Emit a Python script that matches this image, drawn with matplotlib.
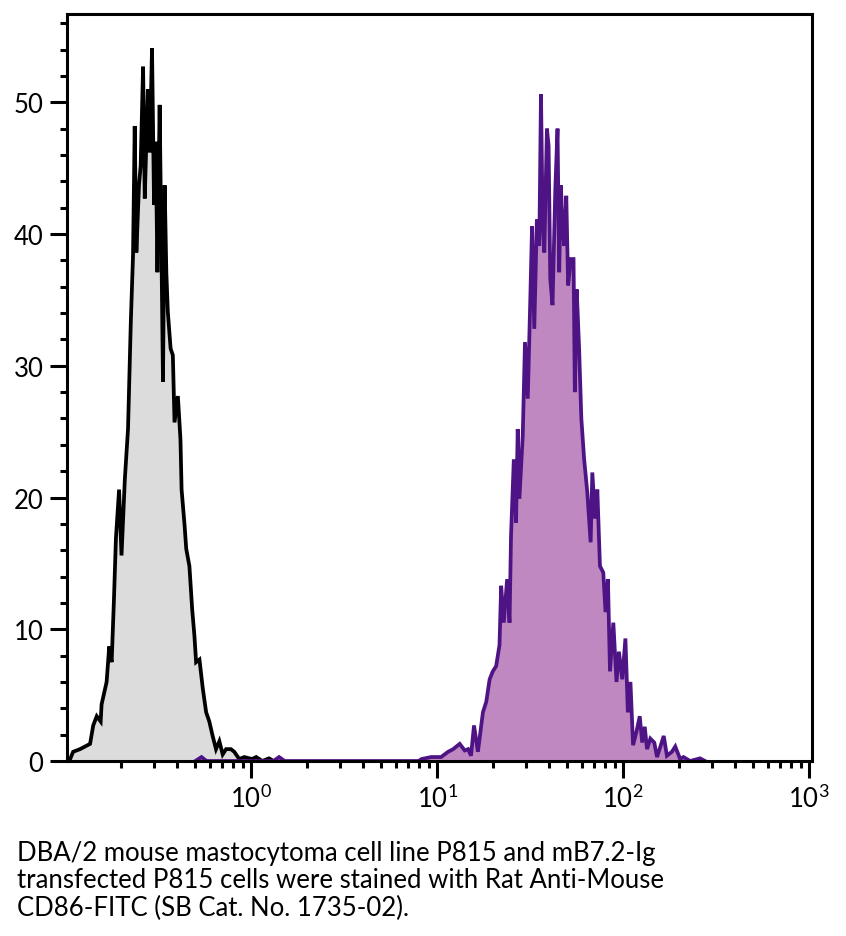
import numpy as np
import matplotlib
matplotlib.use('Agg')
import matplotlib.pyplot as plt
from matplotlib.ticker import FixedLocator, MultipleLocator, LogFormatterSciNotation

plt.rcParams['font.family'] = ['Lato', 'DejaVu Sans']
plt.rcParams['mathtext.fontset'] = 'custom'
plt.rcParams['mathtext.rm'] = 'Lato'
plt.rcParams['mathtext.it'] = 'Lato:italic'
plt.rcParams['mathtext.bf'] = 'Lato:bold'

# control (unstained) histogram - log10 of intensity vs count
ctrl_log = [-0.99, -0.973, -0.957, -0.920, -0.893, -0.866, -0.849, -0.830, -0.809, -0.804,
            -0.777, -0.763, -0.750, -0.738, -0.727, -0.710, -0.697, -0.679, -0.662, -0.647,
            -0.635, -0.626, -0.617, -0.603, -0.594, -0.581, -0.572, -0.563, -0.555, -0.545,
            -0.533, -0.522, -0.513, -0.504, -0.492, -0.483, -0.474, -0.465, -0.456, -0.448,
            -0.433, -0.421, -0.412, -0.394, -0.380, -0.374, -0.358, -0.349, -0.332, -0.317,
            -0.305, -0.296, -0.278, -0.260, -0.242, -0.225, -0.207, -0.189, -0.171, -0.153,
            -0.135, -0.109, -0.091, -0.064, -0.037, 0.005, 0.027, 0.06, 0.096, 0.12]
ctrl_count = [0.0, 0.15, 0.7, 0.9, 1.1, 1.3, 2.7, 3.4, 3.0, 4.3,
              6.0, 8.7, 7.5, 12.1, 16.9, 20.6, 15.6, 21.4, 25.2, 33.3,
              38.4, 48.2, 38.6, 43.7, 45.2, 52.7, 42.7, 47.2, 51.0, 46.2,
              54.1, 42.2, 47.0, 37.1, 49.8, 39.6, 28.8, 43.7, 37.1, 34.1,
              31.3, 30.8, 25.7, 27.7, 24.4, 20.6, 17.9, 16.1, 14.8, 11.5,
              9.5, 7.5, 7.7, 5.5, 3.7, 3.0, 1.9, 0.9, 1.5, 0.5,
              0.9, 0.9, 0.7, 0.15, 0.3, 0.15, 0.3, 0.0, 0.2, 0.0]

# mB7.2-Ig transfected P815, CD86-FITC
cd86_log = [-0.30, -0.267, -0.24, 0.12, 0.150, 0.18, 0.90, 0.916, 0.968, 1.021,
            1.059, 1.086, 1.121, 1.148, 1.166, 1.182, 1.198, 1.219, 1.246, 1.264,
            1.282, 1.299, 1.317, 1.335, 1.344, 1.358, 1.376, 1.389, 1.397, 1.412,
            1.424, 1.433, 1.442, 1.460, 1.472, 1.487, 1.501, 1.510, 1.522, 1.536,
            1.549, 1.558, 1.567, 1.576, 1.590, 1.599, 1.608, 1.620, 1.635, 1.647,
            1.656, 1.665, 1.674, 1.683, 1.694, 1.704, 1.718, 1.733, 1.740, 1.750,
            1.763, 1.775, 1.790, 1.807, 1.825, 1.834, 1.849, 1.861, 1.875, 1.893,
            1.905, 1.918, 1.929, 1.947, 1.964, 1.977, 1.995, 2.012, 2.025, 2.039,
            2.053, 2.071, 2.089, 2.102, 2.116, 2.128, 2.146, 2.167, 2.182, 2.218,
            2.235, 2.262, 2.280, 2.306, 2.324, 2.36, 2.413, 2.44]
cd86_count = [0.0, 0.3, 0.0, 0.0, 0.3, 0.0, 0.0, 0.15, 0.3, 0.3,
              0.7, 0.9, 1.3, 0.8, 0.9, 0.4, 2.7, 0.7, 3.7, 4.5,
              6.2, 6.8, 7.2, 8.8, 13.3, 10.5, 13.8, 10.5, 17.1, 22.9,
              18.1, 25.2, 19.9, 24.7, 31.8, 27.5, 35.3, 40.6, 32.8, 41.1,
              39.1, 50.6, 41.1, 38.6, 48.0, 46.7, 36.6, 34.6, 43.4, 48.0,
              37.1, 43.7, 40.6, 39.1, 42.9, 36.1, 38.1, 38.1, 28.0, 35.8,
              31.3, 26.0, 22.9, 20.4, 16.6, 21.9, 18.4, 20.6, 14.8, 14.3,
              11.3, 13.8, 6.8, 10.5, 6.0, 8.3, 6.2, 9.3, 3.7, 6.0,
              1.2, 2.2, 3.4, 1.4, 2.6, 0.9, 1.7, 1.4, 0.3, 1.9,
              0.4, 0.7, 1.1, 0.15, 0.3, 0.0, 0.2, 0.0]

caption = ("DBA/2 mouse mastocytoma cell line P815 and mB7.2-Ig\n"
           "transfected P815 cells were stained with Rat Anti-Mouse\n"
           "CD86-FITC (SB Cat. No. 1735-02).")

fig = plt.figure(figsize=(8.46, 9.37), dpi=100)
ax = fig.add_axes([67 / 846, 1 - 762 / 937, (812 - 67) / 846, (762 - 15) / 937])

x1 = 10 ** np.array(ctrl_log)
x2 = 10 ** np.array(cd86_log)
ax.fill_between(x1, ctrl_count, color='#dcdcdc', lw=0)
ax.plot(x1, ctrl_count, color='black', lw=2.7, solid_joinstyle='miter')
ax.fill_between(x2, cd86_count, color='#bf88c0', lw=0)
ax.plot(x2, cd86_count, color='#4e1485', lw=2.7, solid_joinstyle='miter')

ax.set_xscale('log')
ax.set_xlim(10 ** -0.99, 10 ** 3.015)
ax.set_ylim(0, 56.7)

ax.xaxis.set_major_locator(FixedLocator([1, 10, 100, 1000]))
ax.xaxis.set_major_formatter(LogFormatterSciNotation())
minors = [m * 10.0 ** d for d in range(-1, 3) for m in range(2, 10)]
ax.xaxis.set_minor_locator(FixedLocator(minors))
ax.xaxis.set_minor_formatter(plt.NullFormatter())
ax.yaxis.set_major_locator(FixedLocator([0, 10, 20, 30, 40, 50]))
ax.yaxis.set_minor_locator(MultipleLocator(2))

for s in ax.spines.values():
    s.set_linewidth(2.2)
ax.tick_params(which='major', length=12, width=2.2, labelsize=18.5, pad=5)
ax.tick_params(which='minor', length=5, width=2.2)

fig.text(17 / 846, 1 - 841 / 937, caption, fontsize=18.5, va='top', ha='left',
         linespacing=1.12)

fig.savefig('out.png', dpi=100)
